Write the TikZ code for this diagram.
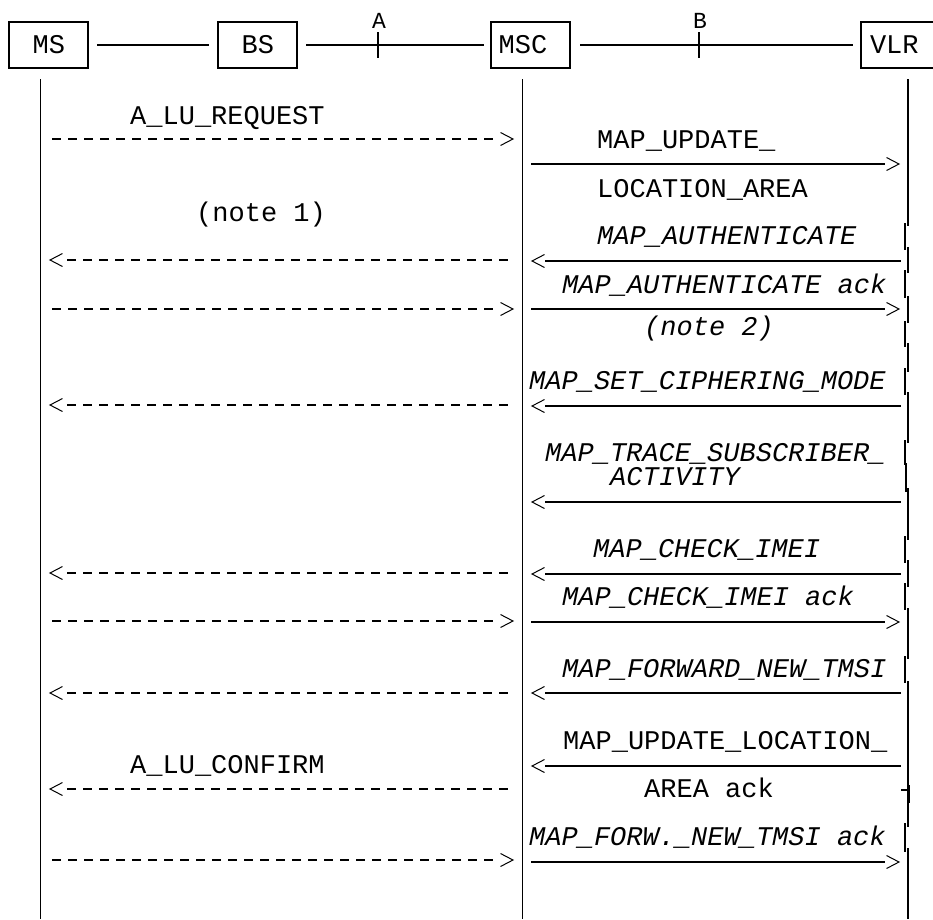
\documentclass[tikz,border=0pt]{standalone}
\usepackage{fontspec}
\newfontfamily\cour{Liberation Mono}
\begin{document}
\begin{tikzpicture}[x=1pt,y=-1pt,
  ent/.style={draw, line width=2pt, minimum width=79pt, minimum height=46pt, inner sep=0pt, font=\cour\fontsize{27}{30}\selectfont},
  lbl/.style={anchor=base west, inner sep=0pt, font=\cour\fontsize{27}{30}\selectfont},
  ilbl/.style={anchor=base west, inner sep=0pt, font=\cour\itshape\fontsize{27}{30}\selectfont},
  ifl/.style={anchor=base, inner sep=0pt, font=\cour\fontsize{23}{26}\selectfont},
  iface/.style={line width=2pt},
  life/.style={line width=1.4pt},
  dmsg/.style={line width=1.3pt, dash pattern=on 9pt off 7pt},
  smsg/.style={line width=2pt},
  chevR/.pic={\draw[line width=1pt] (-12.5,-6.5) -- (0,0) -- (-12.5,6.5);},
  chevL/.pic={\draw[line width=1pt] (12.5,-6.5) -- (0,0) -- (12.5,6.5);},
]
\useasboundingbox (0,0) rectangle (933,919);

% entities
\node[ent] (ms) at (48.8,44.9) {MS};
\node[ent] (bs) at (257.8,44.9) {BS};
\node[ent, text width=64.4pt, inner xsep=7.3pt, align=left] (msc) at (530.9,44.9) {MSC};
\node[ent, minimum width=90pt, text width=72pt, inner xsep=9pt, align=left] (vlr) at (906,44.9) {VLR};

% interfaces
\draw[iface, shorten <=8pt, shorten >=8pt] (ms) -- (bs);
\draw[iface, shorten <=8pt, shorten >=6pt] (bs) -- (msc);
\draw[iface, shorten <=9pt, shorten >=7pt] (msc) -- (vlr);
\coordinate (tA) at (378,44.5);
\coordinate (tB) at (699,44.5);
\draw[iface] (378,32) -- (378,58);
\draw[iface] (699,32) -- (699,58);
\node[ifl] (lA) at (379,28) {A};
\node[ifl] (lB) at (700,28) {B};

% lifelines
\coordinate (ms-top) at (40.3,79);
\coordinate (ms-bot) at (40.3,919);
\coordinate (msc-top) at (522.3,79);
\coordinate (msc-bot) at (522.3,919);
\draw[life] (ms-top) -- (ms-bot);
\draw[life] (msc-top) -- (msc-bot);
\foreach \a/\b in {79/226, 247/273, 296/323, 343/372, 392/443, 488/540, 560/587, 608/659, 681/785, 803/827, 848/919}
  \draw[life] (908,\a) -- (908,\b);
\foreach \a/\b in {223/250, 270/298, 321/347, 368/395, 440/465, 536/563, 583/610, 656/683, 823/852}
  \draw[life] (905,\a) -- (905,\b);
\draw[life] (906,463) -- (906,492);
\draw[line width=2.6pt] (908.3,785) -- (908.3,803);
\draw[iface] (901,790) -- (908,790);

% MS <-> MSC messages (dashed)
\foreach \n/\y in {1/139, 3/309, 6/621, 9/860} {
  \coordinate (la\n) at (52,\y);
  \coordinate (lb\n) at (513,\y);
  \draw[dmsg, shorten >=14pt] (la\n) -- (lb\n);
  \pic at (lb\n) {chevR};
}
\foreach \n/\y in {2/260, 4/405, 5/573, 7/693, 8/789} {
  \coordinate (la\n) at (50,\y);
  \coordinate (lb\n) at (513,\y);
  \draw[dmsg, shorten <=17pt] (la\n) -- (lb\n);
  \pic at (la\n) {chevL};
}

% MSC <-> VLR messages (solid)
\foreach \n/\y in {1/164, 3/309, 7/622, 10/862} {
  \coordinate (ra\n) at (531,\y);
  \coordinate (rb\n) at (899,\y);
  \draw[smsg, shorten >=14pt] (ra\n) -- (rb\n);
  \pic at (rb\n) {chevR};
}
\foreach \n/\y in {2/261, 4/406, 5/502, 6/574, 8/693, 9/766} {
  \coordinate (ra\n) at (532,\y);
  \coordinate (rb\n) at (901,\y);
  \draw[smsg, shorten <=13pt] (ra\n) -- (rb\n);
  \pic at (ra\n) {chevL};
}

% labels
\node[lbl] (t-req) at (130,124.5) {A\_LU\_REQUEST};
\node[lbl] (t-n1) at (196,221) {(note 1)};
\node[lbl] (t-conf) at (130,773) {A\_LU\_CONFIRM};
\node[lbl] (t-upd1) at (597,148) {MAP\_UPDATE\_};
\node[lbl] (t-upd2) at (597,197) {LOCATION\_AREA};
\node[ilbl] (t-auth) at (597,244) {MAP\_AUTHENTICATE};
\node[ilbl] (t-authack) at (562,293) {MAP\_AUTHENTICATE ack};
\node[ilbl] (t-n2) at (644,335) {(note 2)};
\node[ilbl] (t-ciph) at (529,389) {MAP\_SET\_CIPHERING\_MODE};
\node[ilbl] (t-tr1) at (545,461) {MAP\_TRACE\_SUBSCRIBER\_};
\node[ilbl] (t-tr2) at (610,485) {ACTIVITY};
\node[ilbl] (t-imei) at (593,557) {MAP\_CHECK\_IMEI};
\node[ilbl] (t-imeiack) at (562,605) {MAP\_CHECK\_IMEI ack};
\node[ilbl] (t-fwd) at (562,677) {MAP\_FORWARD\_NEW\_TMSI};
\node[lbl] (t-ula1) at (563,749) {MAP\_UPDATE\_LOCATION\_};
\node[lbl] (t-ula2) at (644,797) {AREA ack};
\node[ilbl] (t-fwdack) at (529,845) {MAP\_FORW.\_NEW\_TMSI ack};
\end{tikzpicture}
\end{document}
